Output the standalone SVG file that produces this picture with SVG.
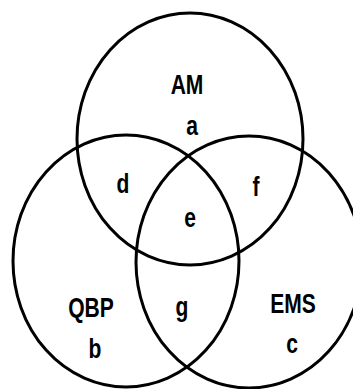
<svg xmlns="http://www.w3.org/2000/svg" width="353" height="389" viewBox="0 0 353 389">
<style>
.c{fill:none;stroke:#000;stroke-width:3}
.t{font-family:"Liberation Sans",Arial,sans-serif;font-size:27px;font-weight:bold;fill:#000;text-anchor:middle}
</style>
<rect width="353" height="389" fill="#fff"/>
<g id="connectors"></g>
<g id="AM">
<ellipse class="c" cx="190" cy="139" rx="113" ry="126"/>
<text class="t" transform="translate(187,94) scale(0.78,1)">AM</text>
<text class="t" transform="translate(192,135) scale(0.78,1)">a</text>
</g>
<g id="QBP">
<ellipse class="c" cx="126" cy="261" rx="113" ry="126"/>
<text class="t" transform="translate(91,317) scale(0.78,1)">QBP</text>
<text class="t" transform="translate(95,358) scale(0.78,1)">b</text>
</g>
<g id="EMS">
<ellipse class="c" cx="249" cy="262" rx="113" ry="126"/>
<text class="t" transform="translate(293,313) scale(0.78,1)">EMS</text>
<text class="t" transform="translate(292,353) scale(0.78,1)">c</text>
</g>
<g id="regions">
<text class="t" transform="translate(123,193) scale(0.78,1)">d</text>
<text class="t" transform="translate(256,196) scale(0.78,1)">f</text>
<text class="t" transform="translate(190,227) scale(0.78,1)">e</text>
<text class="t" transform="translate(182,316) scale(0.78,1)">g</text>
</g>
</svg>
